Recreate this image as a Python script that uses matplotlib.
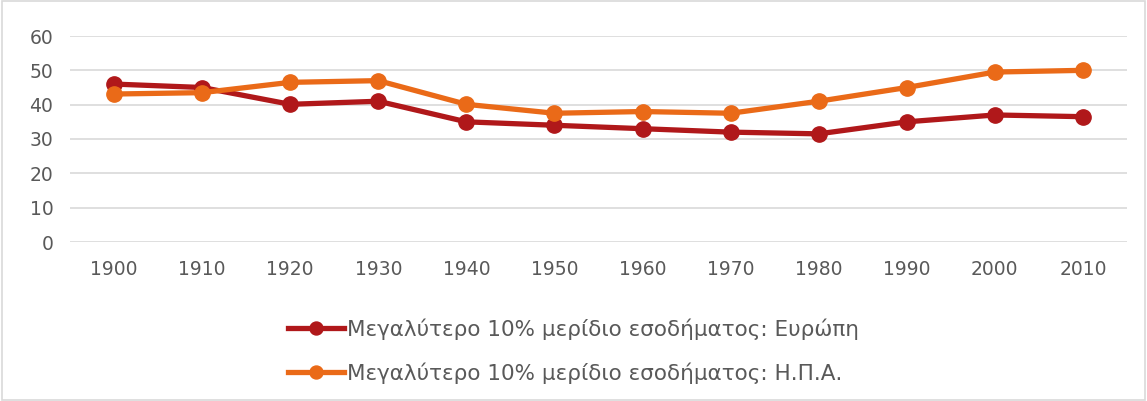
import matplotlib.pyplot as plt
from matplotlib.patches import Rectangle

# ── Data ─────────────────────────────────────────────────────────────────────
years = ["1900", "1910", "1920", "1930", "1940", "1950",
         "1960", "1970", "1980", "1990", "2000", "2010"]
europe = [46.0, 45.0, 40.1, 41.0, 35.0, 34.0, 33.0, 32.0, 31.5, 35.0, 37.0, 36.5]
usa    = [43.1, 43.5, 46.5, 47.0, 40.1, 37.5, 38.0, 37.5, 41.0, 45.0, 49.5, 50.0]
label_eu  = "Μεγαλύτερο 10% μερίδιο εσοδήματος: Ευρώπη"
label_usa = "Μεγαλύτερο 10% μερίδιο εσοδήματος: Η.Π.Α."

RED    = "#B0181A"
ORANGE = "#EA6A18"
GRAY   = "#595959"

plt.rcParams["font.family"] = ["DejaVu Sans"]

fig = plt.figure(figsize=(11.47, 4.01), dpi=100)
ax = fig.add_axes([70 / 1147, (401 - 242) / 401, (1127 - 70) / 1147, 206 / 401])

x = list(range(len(years)))
ax.plot(x, europe, color=RED, lw=3.8, marker="o", ms=11, label=label_eu,
        clip_on=False, zorder=3)
ax.plot(x, usa, color=ORANGE, lw=3.8, marker="o", ms=11, label=label_usa,
        clip_on=False, zorder=4)

ax.set_xlim(-0.5, len(years) - 0.5)
ax.set_ylim(0, 60)
ax.set_yticks(range(0, 61, 10))
ax.set_xticks(x)
ax.set_xticklabels(years)
ax.grid(axis="y", color="#D9D9D9", lw=1.2)
ax.set_axisbelow(True)
for s in ax.spines.values():
    s.set_visible(False)
ax.tick_params(length=0, labelsize=13.5, colors=GRAY)
ax.tick_params(axis="x", pad=13)
ax.tick_params(axis="y", pad=12)

fig.legend(loc="center", bbox_to_anchor=(0.5, 0.125), ncol=1, frameon=False,
           fontsize=15.5, labelcolor=GRAY, handlelength=2.6, handletextpad=0.1,
           labelspacing=1.05, markerscale=0.85)

# light border round the chart
fig.patches.append(Rectangle((0.002, 0.003), 0.996, 0.994, transform=fig.transFigure,
                             fill=False, edgecolor="#D9D9D9", lw=1.2))

fig.savefig("out.png", dpi=100)
